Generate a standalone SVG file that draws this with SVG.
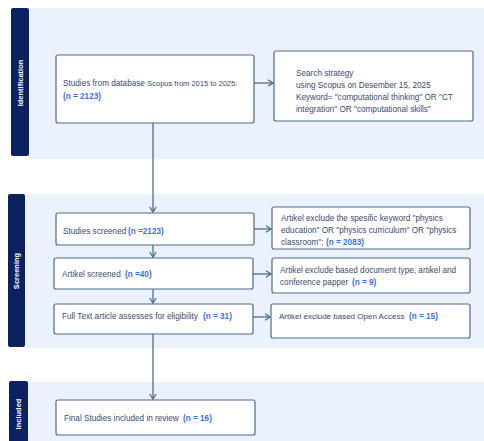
<svg xmlns="http://www.w3.org/2000/svg" width="484" height="441" viewBox="0 0 484 441">
<style>
.band{fill:#ebf2fd}
.side{fill:#0c2260}
.box{fill:#ffffff;stroke:#4f6a8e;stroke-width:1.2}
.t{font-family:"Liberation Sans",Arial,sans-serif;font-size:8.2px;fill:#3a4a6c}
.s{font-size:7.5px}
.n{font-family:"Liberation Sans",Arial,sans-serif;font-size:8.2px;font-weight:bold;fill:#3f6fd0}
.lab{font-family:"Liberation Sans",Arial,sans-serif;font-size:7.5px;font-weight:bold;fill:#ffffff}
.ln{fill:none;stroke:#4f6a8e;stroke-width:1.3}
</style>
<defs>
<marker id="ah" markerWidth="8" markerHeight="8" refX="6" refY="4" orient="auto" markerUnits="userSpaceOnUse">
<polyline points="1,0.8 6,4 1,7.2" fill="none" stroke="#4f6a8e" stroke-width="1.3"/>
</marker>
</defs>
<rect width="484" height="441" fill="#ffffff"/>

<g id="bands">
<rect class="band" x="29" y="8" width="455" height="151"/>
<rect class="band" x="25" y="194" width="459" height="154"/>
<rect class="band" x="28" y="382" width="456" height="59"/>
</g>

<g id="phase-identification">
<rect class="side" x="11" y="8" width="18" height="148" rx="2"/>
<text class="lab" transform="translate(22.5,83) rotate(-90)" text-anchor="middle">Identification</text>
</g>
<g id="phase-screening">
<rect class="side" x="8" y="194" width="17" height="153" rx="2"/>
<text class="lab" transform="translate(19,271) rotate(-90)" text-anchor="middle">Screening</text>
</g>
<g id="phase-included">
<rect class="side" x="9" y="381" width="19" height="64" rx="2"/>
<text class="lab" transform="translate(21,414) rotate(-90)" text-anchor="middle">Included</text>
</g>

<g id="connectors">
<line class="ln" x1="254" y1="83" x2="273" y2="83" marker-end="url(#ah)"/>
<line class="ln" x1="153" y1="123" x2="153" y2="212" marker-end="url(#ah)"/>
<line class="ln" x1="153" y1="245" x2="153" y2="257" marker-end="url(#ah)"/>
<line class="ln" x1="153" y1="289" x2="153" y2="303" marker-end="url(#ah)"/>
<line class="ln" x1="153" y1="334" x2="153" y2="399" marker-end="url(#ah)"/>
<line class="ln" x1="254" y1="229" x2="271" y2="229" marker-end="url(#ah)"/>
<line class="ln" x1="253" y1="274" x2="271" y2="274" marker-end="url(#ah)"/>
<line class="ln" x1="253" y1="317" x2="270" y2="317" marker-end="url(#ah)"/>
</g>

<g id="node-database">
<rect class="box" x="56" y="55" width="198" height="68" rx="2"/>
<text class="t" x="63" y="86">Studies from database <tspan class="s">Scopus from 2015 to 2025:</tspan></text>
<text class="n" x="63" y="99">(n = 2123)</text>
</g>

<g id="node-search">
<rect class="box" x="274" y="51" width="199" height="70" rx="2"/>
<text class="t" x="296" y="76">Search strategy</text>
<text class="t" x="296" y="88">using Scopus on Desember 15, 2025</text>
<text class="t" x="296" y="100">Keyword= "computational thinking" OR "CT</text>
<text class="t" x="296" y="112">integration" OR "computational skills"</text>
</g>

<g id="node-screened">
<rect class="box" x="56" y="213" width="198" height="32" rx="2"/>
<text class="t" x="63" y="234">Studies screened</text>
<text class="n" x="128" y="234">(n =2123)</text>
</g>

<g id="node-exclude-keyword">
<rect class="box" x="272" y="207" width="198" height="42" rx="2"/>
<text class="t" x="281" y="221">Artikel exclude the spesific keyword "physics</text>
<text class="t" x="281" y="233">education" OR "physics curriculum" OR "physics</text>
<text class="t" x="281" y="245">classroom":</text>
<text class="n" x="326" y="245">(n = 2083)</text>
</g>

<g id="node-artikel-screened">
<rect class="box" x="54" y="258" width="199" height="31" rx="2"/>
<text class="t" x="62" y="277">Artikel screened</text>
<text class="n" x="125" y="277">(n =40)</text>
</g>

<g id="node-exclude-type">
<rect class="box" x="272" y="258" width="198" height="35" rx="2"/>
<text class="t" x="280" y="273">Artikel exclude based document type, artikel and</text>
<text class="t" x="280" y="285">conference papper</text>
<text class="n" x="352" y="285">(n = 9)</text>
</g>

<g id="node-fulltext">
<rect class="box" x="54" y="304" width="199" height="30" rx="2"/>
<text class="t" x="62" y="319">Full Text article assesses for eligibility</text>
<text class="n" x="203" y="319">(n = 31)</text>
</g>

<g id="node-exclude-oa">
<rect class="box" x="271" y="304" width="199" height="34" rx="2"/>
<text class="t" x="279" y="319" style="font-size:8px">Artikel exclude based Open Access</text>
<text class="n" x="409" y="319">(n = 15)</text>
</g>

<g id="node-final">
<rect class="box" x="56" y="400" width="199" height="35" rx="2"/>
<text class="t" x="64" y="421">Final Studies included in review</text>
<text class="n" x="183" y="421">(n = 16)</text>
</g>
</svg>
